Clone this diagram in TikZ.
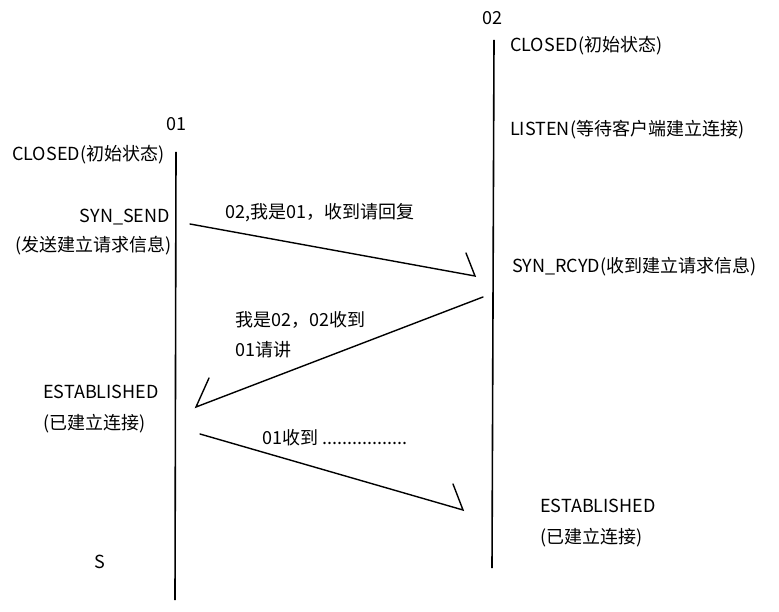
\documentclass[tikz,border=0pt]{standalone}
\usepackage{fontspec}
\setmainfont{Noto Sans CJK SC}
\begin{document}
\begin{tikzpicture}[x=1pt,y=-1pt,
  lbl/.style={anchor=west,inner sep=0pt,font=\fontsize{18}{21}\selectfont},
  lifeline/.style={line width=1.6pt},
  msg/.style={line width=1.4pt,line join=miter,line cap=round}]
\useasboundingbox[fill=white] (0,0) rectangle (779,612);
% lifelines
\coordinate (l1top) at (176,152);
\coordinate (l1bot) at (175,600);
\coordinate (l2top) at (494,40);
\coordinate (l2bot) at (492,568);
\draw[lifeline] (l1top) -- (l1bot);
\draw[lifeline] (l2top) -- (l2bot);
% headers
\node[lbl] (h1) at (166,124) {01};
\node[lbl] (h2) at (482,18) {02};
% left states
\node[lbl] (c1) at (12,155) {CLOSED(初始状态)};
\node[lbl,anchor=east] (s1) at (170,217) {SYN\_SEND};
\node[lbl,anchor=east] (s1b) at (172,246) {(发送建立请求信息)};
\node[lbl] (e1) at (43,392) {ESTABLISHED};
\node[lbl] (e1b) at (43,424) {(已建立连接)};
\node[lbl] (sx) at (94,562) {S};
% right states
\node[lbl] (c2) at (510,46) {CLOSED(初始状态)};
\node[lbl] (li) at (510,130) {LISTEN(等待客户端建立连接)};
\node[lbl] (sr) at (512,267) {SYN\_RCYD(收到建立请求信息)};
\node[lbl] (e2) at (540,506) {ESTABLISHED};
\node[lbl] (e2b) at (540,538) {(已建立连接)};
% message labels
\node[lbl] (m1) at (225,213) {02,我是01，收到请回复};
\node[lbl] (m2) at (235,320) {我是02，02收到};
\node[lbl] (m2b) at (235,350) {01请讲};
\node[lbl] (m3) at (262,438) {01收到 .................};
% message 1
\coordinate (a1s) at (190,224);
\coordinate (a1t) at (475,276);
\coordinate (a1b) at (466,253);
\draw[msg] (a1s) -- (a1t) -- (a1b);
% message 2
\coordinate (a2s) at (483,297);
\coordinate (a2t) at (196,407);
\coordinate (a2b) at (209,378);
\draw[msg] (a2s) -- (a2t) -- (a2b);
% message 3
\coordinate (a3s) at (200,434);
\coordinate (a3t) at (463,510);
\coordinate (a3b) at (453,484);
\draw[msg] (a3s) -- (a3t) -- (a3b);
\end{tikzpicture}
\end{document}
